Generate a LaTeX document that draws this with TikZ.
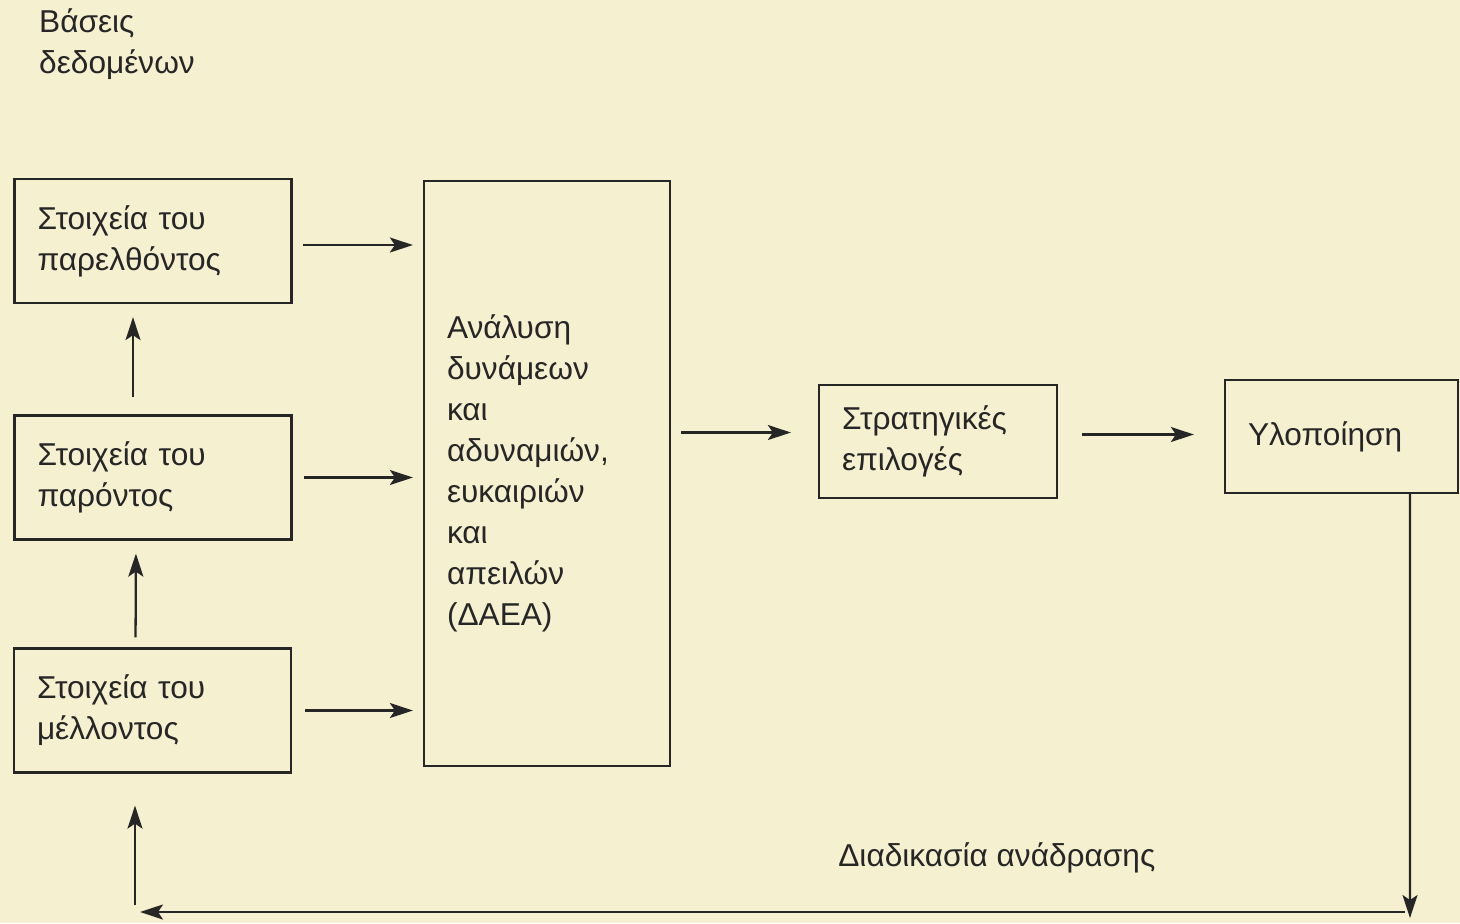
\documentclass[tikz,border=0pt]{standalone}
\usepackage{fontspec}
\setmainfont{Liberation Sans}
\usetikzlibrary{arrows.meta, positioning}
\definecolor{paper}{RGB}{245,240,207}
\definecolor{ink}{RGB}{38,38,38}

\begin{document}
\begin{tikzpicture}[x=0.02cm, y=-0.02cm,
    box/.style={draw=ink, line width=1.3pt, text=ink, align=left, inner xsep=0.46cm,
      font=\fontsize{18}{23.3}\selectfont},
    lbl/.style={text=ink, inner sep=0pt, align=left, font=\fontsize{18}{23.3}\selectfont},
    arr/.style={draw=ink, line width=1.3pt, -{Stealth[length=0.46cm, width=0.3cm, inset=0.1cm]}}]
      % Background and page size
      \fill[paper] (0,0) rectangle (1460,923);
      \useasboundingbox (0,0) rectangle (1460,923);

      % Data bases: past, present, future
      \node[lbl] (dbtext) at (117,44) {Βάσεις\\δεδομένων};
      \node[box, text width=4.62cm, minimum height=2.48cm] (past) at (153,241) {Στοιχεία του\\παρελθόντος};
      \node[box, text width=4.62cm, minimum height=2.48cm] (present) at (153,477.5) {Στοιχεία του\\παρόντος};
      \node[box, text width=4.62cm, minimum height=2.48cm] (future) at (152.5,710.5) {Στοιχεία του\\μέλλοντος};
      \draw[arr, shorten <=0.34cm, shorten >=0.26cm] ([xshift=-0.4cm]present.north) -- ([xshift=-0.4cm]past.south);
      \draw[arr, shorten <=0.2cm, shorten >=0.26cm] ([xshift=-0.34cm]future.north) -- ([xshift=-0.34cm]present.south);

      % SWOT analysis
      \node[box, text width=4.0cm, minimum height=11.7cm] (daea) at (547,473.5) {Ανάλυση\\δυνάμεων\\και\\αδυναμιών,\\ευκαιριών\\και\\απειλών\\(ΔΑΕΑ)};
      \draw[arr, shorten <=0.2cm, shorten >=0.2cm] ([yshift=-0.08cm]past.east) -- ([yshift=-0.08cm]past.east -| daea.west);
      \draw[arr, shorten <=0.22cm, shorten >=0.2cm] (present.east) -- (present.east -| daea.west);
      \draw[arr, shorten <=0.26cm, shorten >=0.2cm] (future.east) -- (future.east -| daea.west);

      % Strategy and implementation
      \node[box, text width=3.84cm, minimum height=2.26cm] (strat) at (938,441.5) {Στρατηγικές\\επιλογές};
      \node[box, text width=3.74cm, minimum height=2.26cm] (impl) at (1341.5,436.5) {Υλοποίηση};
      \draw[arr, shorten <=0.2cm, shorten >=0.54cm] ([yshift=0.18cm]daea.east |- strat.west) -- ([yshift=0.18cm]strat.west);
      \draw[arr, shorten <=0.48cm, shorten >=0.6cm] ([yshift=0.04cm]strat.east |- impl.west) -- ([yshift=0.04cm]impl.west);

      % Feedback loop
      \coordinate (fbR) at (1410,912);
      \coordinate (fbL) at (135,912);
      \draw[arr] ([xshift=1.37cm]impl.south) -- ([yshift=-0.12cm]fbR);
      \draw[arr] ([xshift=-0.1cm]fbR) -- ([xshift=0.1cm]fbL);
      \draw[arr, shorten >=0.64cm] ([yshift=0.14cm]fbL) -- (fbL |- future.south);
      \node[lbl, anchor=west] (fbtext) at (838,858) {Διαδικασία ανάδρασης};
    \end{tikzpicture}
\end{document}
